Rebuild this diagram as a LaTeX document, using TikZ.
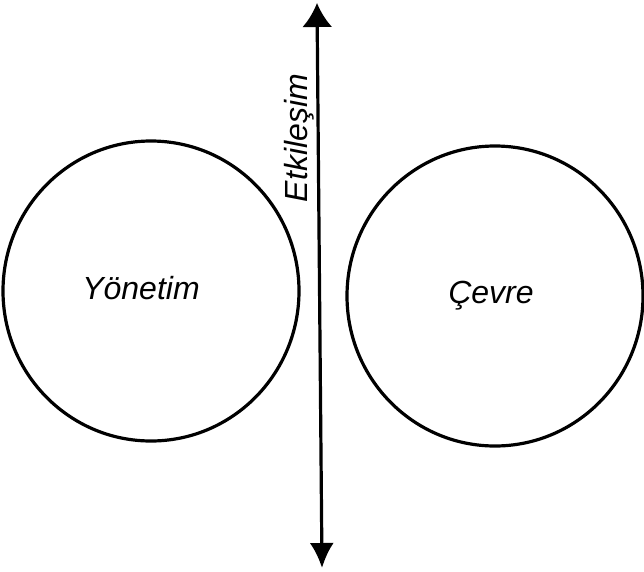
\documentclass[tikz,border=0pt]{standalone}
\usepackage{fontspec}
\setmainfont{Liberation Sans}
\usetikzlibrary{shapes.geometric,arrows.meta}

\begin{document}
\begin{tikzpicture}[x=1pt, y=-1pt,
  sphere/.style={draw, ellipse, line width=3.2pt, minimum width=296pt, minimum height=300pt, inner sep=0pt},
  word/.style={font=\fontsize{32}{36}\selectfont\itshape, inner sep=0pt},
  lbl/.style={word, rotate=90},
  arr/.style={{Latex[length=24pt,width=30pt]}-{Latex[length=25pt,width=24pt]}, line width=3.2pt}
]
\useasboundingbox (0,0) rectangle (644,571);
\node[sphere] (yon) at (151,291) {};
\node[sphere] (cev) at (495,296) {};
\node[word] (yont) at (141,288) {Yönetim};
\node[word] (cevt) at (491,296) {Çevre};

\coordinate (top) at (317,3);
\coordinate (bot) at (322,568);
\draw[arr] (top) -- (bot);
\node[lbl] (etk) at (299,138) {Etkileşim};
\end{tikzpicture}
\end{document}
